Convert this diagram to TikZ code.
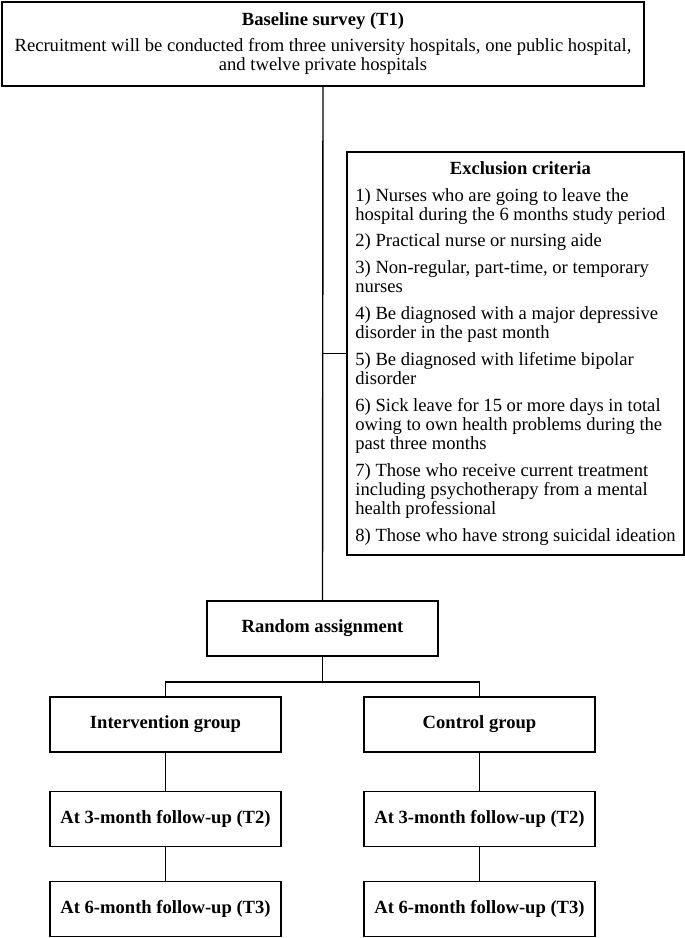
\documentclass[tikz,border=0pt]{standalone}
\usepackage{fontspec}
\setmainfont{Liberation Serif}
\begin{document}
\begin{tikzpicture}[x=1pt, y=-1pt,
  box/.style={draw, line width=1.4pt, fill=white, align=center, inner sep=0pt,
    font=\fontsize{18.6}{19}\selectfont},
  stagebox/.style={box, minimum width=231pt, minimum height=55pt, font=\fontsize{18.6}{19}\selectfont\bfseries},
  link/.style={line width=1.4pt}]
% Set the page size
\useasboundingbox (0,0) rectangle (685,938);

% Baseline survey and exclusion criteria
\node[box, minimum width=642pt, minimum height=84pt] (base) at (323, 44)
  {\textbf{Baseline survey (T1)}\\[7pt]
   Recruitment will be conducted from three university hospitals, one public hospital,\\
   and twelve private hospitals};
\node[box, minimum width=337pt, minimum height=403pt, align=left,
      font=\fontsize{18.6}{19.2}\selectfont] (excl) at (515.5, 353.5)
  {\makebox[320pt]{\hspace{10pt}\textbf{Exclusion criteria}}\\[7.5pt]
   1) Nurses who are going to leave the\\
   hospital during the 6 months study period\\[7.5pt]
   2) Practical nurse or nursing aide\\[7.5pt]
   3) Non-regular, part-time, or temporary\\
   nurses\\[7.5pt]
   4) Be diagnosed with a major depressive\\
   disorder in the past month\\[7.5pt]
   5) Be diagnosed with lifetime bipolar\\
   disorder\\[7.5pt]
   6) Sick leave for 15 or more days in total\\
   owing to own health problems during the\\
   past three months\\[7.5pt]
   7) Those who receive current treatment\\
   including psychotherapy from a mental\\
   health professional\\[7.5pt]
   8) Those who have strong suicidal ideation};

% Random assignment and the two arms
\node[stagebox] (rand) at (322.5, 628.5) {Random assignment};
\node[stagebox] (int) at (165.5, 724.5) {Intervention group};
\node[stagebox] (ctl) at (479.5, 724.5) {Control group};
\node[stagebox] (intT2) at (165.5, 819) {At 3-month follow-up (T2)};
\node[stagebox] (ctlT2) at (479.5, 819) {At 3-month follow-up (T2)};
\node[stagebox] (intT3) at (165.5, 909) {At 6-month follow-up (T3)};
\node[stagebox] (ctlT3) at (479.5, 909) {At 6-month follow-up (T3)};
\coordinate (split) at (322.5, 682);

% Connectors
\draw[link] (base.south) -- (rand.north);
\draw[link] (excl.west) -- (excl.west -| base.south);
\draw[link] (rand.south) -- (split);
\draw[link] (int.north) |- (split) -| (ctl.north);
\draw[link] (int.south) -- (intT2.north);
\draw[link] (intT2.south) -- (intT3.north);
\draw[link] (ctl.south) -- (ctlT2.north);
\draw[link] (ctlT2.south) -- (ctlT3.north);
\end{tikzpicture}
\end{document}
